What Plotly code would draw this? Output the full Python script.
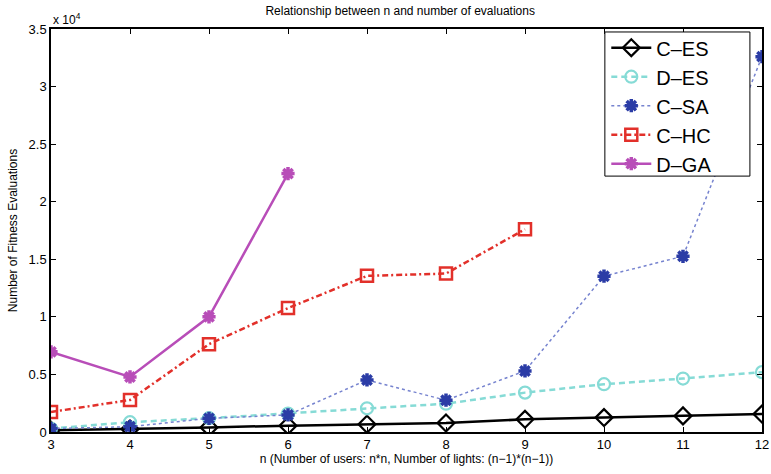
import plotly.graph_objects as go

n_values = [3, 4, 5, 6, 7, 8, 9, 10, 11, 12]
c_es = [150, 250, 400, 550, 670, 780, 1100, 1250, 1400, 1560]
d_es = [300, 850, 1200, 1600, 2060, 2460, 3420, 4150, 4640, 5200]
c_sa = [300, 460, 1190, 1480, 4520, 2760, 5300, 13530, 15260, 32600]
n_hc = [3, 4, 5, 6, 7, 8, 9]
c_hc = [1740, 2780, 7630, 10760, 13560, 13760, 17610]
n_ga = [3, 4, 5, 6]
d_ga = [6960, 4780, 10000, 22440]

y_ticks = [0, 5000, 10000, 15000, 20000, 25000, 30000, 35000]
y_tick_labels = ["0", "0.5", "1", "1.5", "2", "2.5", "3", "3.5"]

FONT = "Liberation Sans, Arial, Helvetica, sans-serif"

fig = go.Figure()
fig.add_trace(go.Scatter(
    x=n_values, y=c_es, name="C\u2013ES", mode="lines+markers",
    line=dict(color="black", width=2.5),
    marker=dict(symbol="diamond-open", size=13, color="black", line=dict(width=2.2, color="black"))))
fig.add_trace(go.Scatter(
    x=n_values, y=d_es, name="D\u2013ES", mode="lines+markers",
    line=dict(color="#86dbd6", width=2.5, dash="6px,4px"),
    marker=dict(symbol="circle-open", size=12, color="#86dbd6", line=dict(width=2.2, color="#86dbd6"))))
fig.add_trace(go.Scatter(
    x=n_values, y=c_sa, name="C\u2013SA", mode="lines+markers",
    line=dict(color="#7683cf", width=1.5, dash="dot"),
    marker=dict(symbol="asterisk-open", size=11, color="#2b3ca6", line=dict(width=3.5, color="#2b3ca6"))))
fig.add_trace(go.Scatter(
    x=n_hc, y=c_hc, name="C\u2013HC", mode="lines+markers",
    line=dict(color="#e2302a", width=2.5, dash="6px,3px,2px,3px"),
    marker=dict(symbol="square-open", size=12, color="#e2302a", line=dict(width=2.5, color="#e2302a"))))
fig.add_trace(go.Scatter(
    x=n_ga, y=d_ga, name="D\u2013GA", mode="lines+markers",
    line=dict(color="#b84db8", width=2.5),
    marker=dict(symbol="asterisk-open", size=11, color="#b84db8", line=dict(width=3.5, color="#b84db8"))))

fig.update_layout(
    width=771, height=474,
    margin=dict(l=51, r=9, t=29, b=42, autoexpand=False),
    paper_bgcolor="white", plot_bgcolor="white",
    font=dict(family=FONT, size=13, color="black"),
    title=dict(text="Relationship between n and number of evaluations", x=0.519, xanchor="center",
               y=0.977, yanchor="middle", font=dict(size=12, family=FONT)),
    showlegend=True,
    legend=dict(x=0.781, y=1.002, xanchor="left", yanchor="top",
                borderwidth=0, bgcolor="rgba(0,0,0,0)",
                font=dict(size=20, family=FONT), itemwidth=40, tracegroupgap=0),
    shapes=[dict(type="rect", xref="paper", yref="paper", x0=0.779, x1=0.983, y0=0.635, y1=0.9926,
                 line=dict(color="black", width=1), fillcolor="white", layer="above")],
)
fig.update_xaxes(
    range=[3, 12], tickvals=n_values, ticks="inside", ticklen=5, tickcolor="black",
    showline=True, linecolor="black", linewidth=1.5, mirror="ticks", showgrid=False, zeroline=False,
    automargin=False,
    title=dict(text="n (Number of users: n*n, Number of lights: (n\u22121)*(n\u22121))", standoff=3,
               font=dict(size=12)),
    tickfont=dict(size=13))
fig.update_yaxes(
    range=[0, 35000], tickvals=y_ticks, ticktext=y_tick_labels, ticks="inside", ticklen=5, tickcolor="black",
    showline=True, linecolor="black", linewidth=1.5, mirror="ticks", showgrid=False, zeroline=False,
    automargin=False,
    title=dict(text="Number of Fitness Evaluations", standoff=8, font=dict(size=12)),
    tickfont=dict(size=13))
fig.add_annotation(text="x 10<sup>4</sup>", xref="paper", yref="paper", x=0.0, y=1.0,
                   xanchor="left", yanchor="bottom", showarrow=False, font=dict(size=12, family=FONT))

fig.write_html("out.html", config={"displayModeBar": False},
               post_script="document.body.style.margin='0';document.body.style.overflow='hidden';")
